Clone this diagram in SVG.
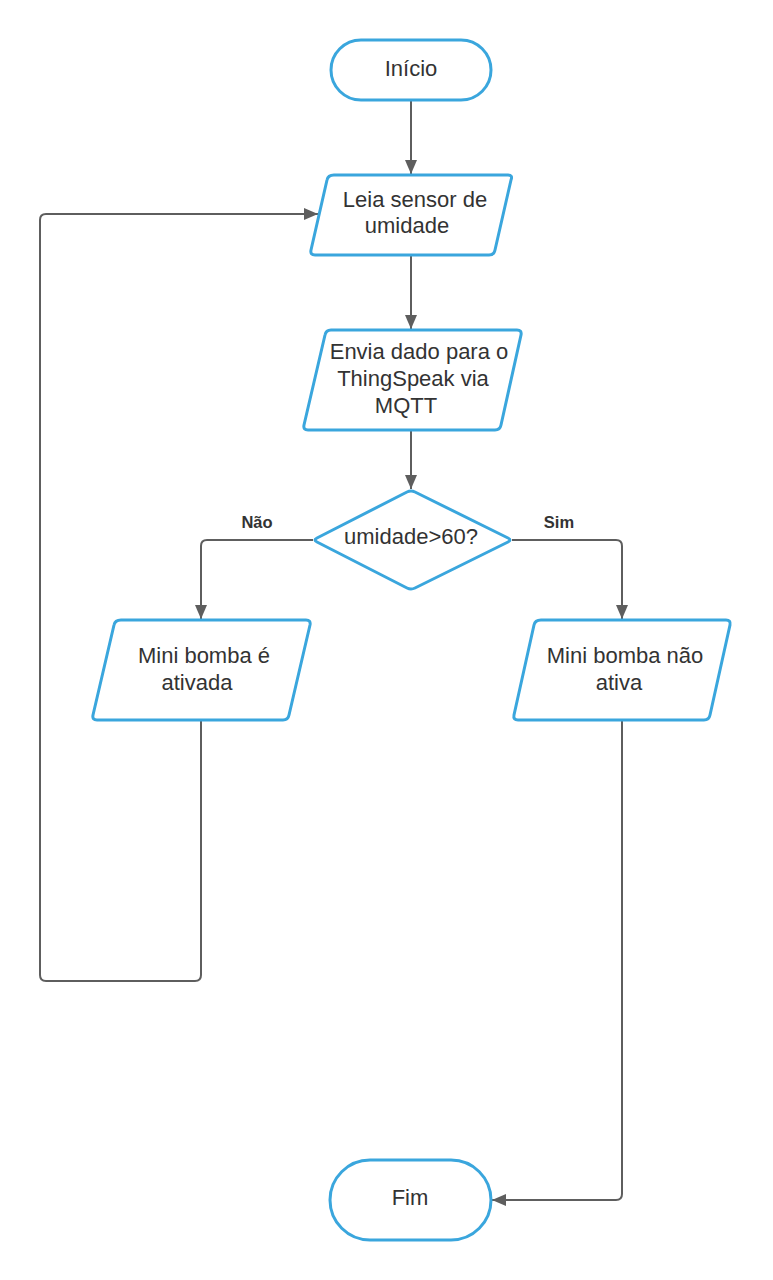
<svg xmlns="http://www.w3.org/2000/svg" width="773" height="1280" viewBox="0 0 773 1280">
<style>
.shape{fill:#ffffff;stroke:#3aa6dd;stroke-width:3;stroke-linejoin:round}
.t{font-family:"Liberation Sans",Arial,sans-serif;font-size:22px;fill:#333333;text-anchor:middle}
.lbl{font-family:"Liberation Sans",Arial,sans-serif;font-size:16.5px;font-weight:bold;fill:#333333;text-anchor:middle}
.c{fill:none;stroke:#5e5e5e;stroke-width:2;marker-end:url(#arr)}
</style>
<defs>
<marker id="arr" markerUnits="userSpaceOnUse" markerWidth="16" markerHeight="14" refX="14" refY="6" orient="auto">
<path d="M0,0 L14,6 L0,12 z" fill="#5e5e5e"/>
</marker>
</defs>
<rect width="773" height="1280" fill="#ffffff"/>
<g id="connectors">
<path class="c" d="M411,100 L411,174"/>
<path class="c" d="M411,255 L411,329"/>
<path class="c" d="M411,430 L411,489"/>
<path class="c" d="M313,540 L207,540 Q201,540 201,546 L201,619"/>
<path class="c" d="M512,540 L616,540 Q622,540 622,546 L622,619"/>
<path class="c" d="M201,720 L201,975 Q201,981 195,981 L46,981 Q40,981 40,975 L40,220 Q40,214 46,214 L318,214"/>
<path class="c" d="M622,720 L622,1194 Q622,1200 616,1200 L492,1200"/>
</g>
<g id="inicio">
<rect class="shape" x="331" y="40" width="160" height="60" rx="30" ry="30"/>
<text class="t" x="411" y="76">Início</text>
</g>
<g id="leia">
<path class="shape" d="M334,175 L508,175 Q513,175 511,180 L495,250 Q494,255 489,255 L315,255 Q310,255 311,250 L327,180 Q328,175 334,175 Z"/>
<text class="t" x="415" y="207">Leia sensor de</text>
<text class="t" x="407" y="233">umidade</text>
</g>
<g id="envia">
<path class="shape" d="M331,330 L517,330 Q522,330 521,335 L501,425 Q500,430 495,430 L308,430 Q303,430 304,425 L325,335 Q326,330 331,330 Z"/>
<text class="t" x="419" y="359">Envia dado para o</text>
<text class="t" x="413" y="386">ThingSpeak via</text>
<text class="t" x="406" y="413">MQTT</text>
</g>
<g id="decisao">
<path class="shape" d="M407,492 Q411,490 415,492 L508,538 Q512,540 508,542 L415,588 Q411,590 407,588 L317,542 Q313,540 317,538 Z"/>
<text class="t" x="411" y="544">umidade&gt;60?</text>
</g>
<g id="labels">
<text class="lbl" x="257" y="528">Não</text>
<text class="lbl" x="559" y="528">Sim</text>
</g>
<g id="ativada">
<path class="shape" d="M121,620 L306,620 Q311,620 310,625 L289,715 Q288,720 283,720 L97,720 Q92,720 93,715 L114,625 Q115,620 121,620 Z"/>
<text class="t" x="204" y="663">Mini bomba é</text>
<text class="t" x="197" y="690">ativada</text>
</g>
<g id="naoativa">
<path class="shape" d="M541,620 L726,620 Q731,620 730,625 L710,715 Q709,720 704,720 L518,720 Q513,720 514,715 L534,625 Q535,620 541,620 Z"/>
<text class="t" x="625" y="663">Mini bomba não</text>
<text class="t" x="619" y="690">ativa</text>
</g>
<g id="fim">
<rect class="shape" x="330" y="1160" width="161" height="80" rx="40" ry="40"/>
<text class="t" x="410" y="1205">Fim</text>
</g>
</svg>
